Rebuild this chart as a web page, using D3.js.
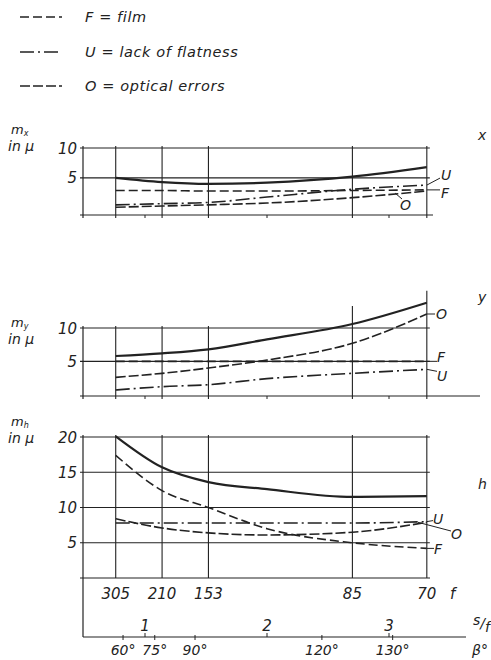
<!DOCTYPE html>
<html><head><meta charset="utf-8">
<script src="https://cdn.jsdelivr.net/npm/d3@7"></script>
<style>
html,body{margin:0;padding:0;background:#fff;}
svg text{font-family:"DejaVu Sans",sans-serif;font-style:italic;fill:#222;}
</style></head>
<body><svg id="c" width="491" height="660"></svg>
<script>
// ---- data ----
const samplePos = [0.76, 1.14, 1.52, 2.0, 2.70, 3.31];   // s/f positions of the read points
const fLabels = ["305", "210", "153", "85", "70"];
const fPositions = [0.76, 1.14, 1.52, 2.70, 3.31];
const sfTicks = [1, 2, 3];
const betaLabels = ["60°", "75°", "90°", "120°", "130°"];
const betaPositions = [0.82, 1.08, 1.41, 2.45, 3.03];

const mxTotal = [5.0, 4.3, 4.0, 4.2, 5.2, 6.8];
const mxF     = [2.9, 2.9, 2.8, 2.8, 2.9, 3.0];
const mxU     = [0.5, 0.7, 0.9, 1.8, 3.1, 3.8];
const mxO     = [0.1, 0.3, 0.5, 0.8, 1.7, 2.8];
const mxTicks = [5, 10];

const myTotal = [5.8, 6.2, 6.8, 8.3, 10.6, 13.8];
const myF     = [5.0, 5.0, 5.0, 5.0, 5.0, 5.0];
const myU     = [0.7, 1.2, 1.5, 2.4, 3.2, 3.8];
const myO     = [2.6, 3.2, 4.0, 5.2, 7.7, 12.1];
const myTicks = [5, 10];

const mhTotal = [20.1, 15.7, 13.6, 12.6, 11.5, 11.6];
const mhF     = [17.4, 12.4, 10.0, 7.0, 5.0, 4.2];
const mhU     = [7.8, 7.8, 7.8, 7.8, 7.8, 8.0];
const mhO     = [8.4, 7.1, 6.4, 6.1, 6.5, 7.9];
const mhTicks = [5, 10, 15, 20];

const legendItems = [
  {key: "F", text: "F  =  film", dash: "9,4"},
  {key: "U", text: "U  =  lack of flatness", dash: "14,4,2,4"},
  {key: "O", text: "O  =  optical errors", dash: "10,3"}
];

// ---- drawing ----
const svg = d3.select("#c");
const ink = "#222";
const x = d3.scaleLinear().domain([1, 3]).range([145, 389]);
const x0 = 83, xEnd = x(3.31);
const dashes = {F: "9,4", U: "14,4,2,4", O: "10,3", T: null};

// legend
legendItems.forEach((d, i) => {
  const y = [17, 52, 86][i];
  svg.append("line").attr("x1", 20).attr("x2", 62).attr("y1", y).attr("y2", y)
    .attr("stroke", ink).attr("stroke-width", 1.6).attr("stroke-dasharray", d.dash);
  svg.append("text").attr("x", 85).attr("y", y + 5).attr("font-size", 14.5)
    .attr("letter-spacing", 0.6).text(d.text);
});

function panel(cfg) {
  const y = d3.scaleLinear().domain(cfg.domain).range(cfg.range);
  const g = svg.append("g");
  const yb = cfg.range[0], yt = y(cfg.ticks[cfg.ticks.length - 1]);
  // horizontal grid lines
  cfg.ticks.forEach(t => {
    g.append("line").attr("x1", x0 - 3).attr("x2", xEnd + 3).attr("y1", y(t)).attr("y2", y(t))
      .attr("stroke", ink).attr("stroke-width", 1.1);
    g.append("text").attr("x", 77).attr("y", y(t) + 5.5).attr("text-anchor", "end")
      .attr("font-size", 15).text(t);
  });
  // bottom axis
  g.append("line").attr("x1", x0 - 3).attr("x2", cfg.bottomEnd).attr("y1", yb).attr("y2", yb)
    .attr("stroke", ink).attr("stroke-width", 1.2);
  // left axis
  g.append("line").attr("x1", x0).attr("x2", x0).attr("y1", yt - 2).attr("y2", cfg.leftEnd)
    .attr("stroke", ink).attr("stroke-width", 1.2);
  // vertical grid lines
  fPositions.forEach((p, i) => {
    const top = cfg.gridTop ? cfg.gridTop[i] : yt;
    g.append("line").attr("x1", x(p)).attr("x2", x(p)).attr("y1", top - 2).attr("y2", yb + cfg.tickOut)
      .attr("stroke", ink).attr("stroke-width", 1.1);
  });
  if (cfg.sfMarks) sfTicks.forEach(t => {
    g.append("line").attr("x1", x(t)).attr("x2", x(t)).attr("y1", yb).attr("y2", yb + 3)
      .attr("stroke", ink).attr("stroke-width", 1);
  });
  // curves
  const line = d3.line().x((d, i) => x(samplePos[i])).y(d => y(d)).curve(d3.curveMonotoneX);
  cfg.series.forEach(s => {
    g.append("path").attr("d", line(s.values)).attr("fill", "none").attr("stroke", ink)
      .attr("stroke-width", s.key === "T" ? 2.2 : 1.6)
      .attr("stroke-dasharray", dashes[s.key]);
  });
  // series labels with leader lines
  cfg.labels.forEach(l => {
    g.append("line").attr("x1", l.x1).attr("y1", l.y1).attr("x2", l.x2).attr("y2", l.y2)
      .attr("stroke", ink).attr("stroke-width", 1);
    g.append("text").attr("x", l.tx).attr("y", l.ty + 5).attr("font-size", 14).text(l.t);
  });
  // axis title
  const ttl = g.append("text").attr("x", 11).attr("y", cfg.titleY).attr("font-size", 13);
  ttl.append("tspan").text("m");
  ttl.append("tspan").attr("font-size", 8).attr("dy", 2).text(cfg.sub);
  g.append("text").attr("x", 8).attr("y", cfg.titleY + 17).attr("font-size", 14).text("in μ");
  g.append("text").attr("x", 478).attr("y", cfg.letterY).attr("font-size", 14).text(cfg.sub);
  return y;
}

// x panel
const yx = d3.scaleLinear().domain([-1.2, 10]).range([215, 148]);
panel({
  domain: [-1.2, 10], range: [215, 148], ticks: mxTicks, bottomEnd: 433, leftEnd: 218, tickOut: 3,
  sfMarks: true, sub: "x", titleY: 134, letterY: 140,
  series: [{key: "T", values: mxTotal}, {key: "F", values: mxF}, {key: "U", values: mxU}, {key: "O", values: mxO}],
  labels: [
    {t: "U", x1: xEnd, y1: yx(mxU[5]), x2: 440, y2: yx(mxU[5]) - 7, tx: 441, ty: 175},
    {t: "F", x1: xEnd, y1: yx(mxF[5]), x2: 440, y2: yx(mxF[5]), tx: 441, ty: 193},
    {t: "O", x1: 395, y1: 193, x2: 402, y2: 199, tx: 400, ty: 205}
  ]
});

// y panel
const yy = d3.scaleLinear().domain([-0.2, 10]).range([396, 328]);
panel({
  domain: [-0.2, 10], range: [396, 328], ticks: myTicks, bottomEnd: 480, leftEnd: 399, tickOut: 3,
  sfMarks: true, sub: "y", titleY: 327, letterY: 302,
  gridTop: [yy(10), yy(10), yy(10), yy(13.0), yy(15.3)],
  series: [{key: "T", values: myTotal}, {key: "F", values: myF}, {key: "U", values: myU}, {key: "O", values: myO}],
  labels: [
    {t: "O", x1: xEnd, y1: yy(myO[5]), x2: 435, y2: yy(myO[5]), tx: 436, ty: 314},
    {t: "F", x1: xEnd, y1: yy(myF[5]), x2: 437, y2: yy(myF[5]), tx: 437, ty: 357},
    {t: "U", x1: xEnd, y1: yy(myU[5]), x2: 437, y2: yy(myU[5]) + 2, tx: 437, ty: 376}
  ]
});

// h panel
const yh = d3.scaleLinear().domain([0, 20]).range([578, 437]);
panel({
  domain: [0, 20], range: [578, 437], ticks: mhTicks, bottomEnd: 430, leftEnd: 637, tickOut: 0,
  sfMarks: false, sub: "h", titleY: 426, letterY: 489,
  series: [{key: "T", values: mhTotal}, {key: "F", values: mhF}, {key: "U", values: mhU}, {key: "O", values: mhO}],
  labels: [
    {t: "U", x1: xEnd, y1: yh(mhU[5]), x2: 433, y2: yh(mhU[5]) - 1, tx: 433, ty: 519},
    {t: "O", x1: 418, y1: yh(mhO[5]), x2: 451, y2: 531, tx: 451, ty: 534},
    {t: "F", x1: xEnd, y1: yh(mhF[5]), x2: 434, y2: yh(mhF[5]), tx: 434, ty: 549}
  ]
});

// f labels
fPositions.forEach((p, i) => {
  svg.append("text").attr("x", x(p)).attr("y", 599).attr("text-anchor", "middle")
    .attr("font-size", 15).text(fLabels[i]);
});
svg.append("text").attr("x", 450).attr("y", 599).attr("font-size", 15).text("f");

// s/f and beta axis
const axY = 637;
svg.append("line").attr("x1", x0).attr("x2", 466).attr("y1", axY).attr("y2", axY)
  .attr("stroke", ink).attr("stroke-width", 1.2);
sfTicks.forEach(t => {
  svg.append("line").attr("x1", x(t)).attr("x2", x(t)).attr("y1", axY - 4).attr("y2", axY)
    .attr("stroke", ink).attr("stroke-width", 1);
  svg.append("text").attr("x", x(t)).attr("y", 631).attr("text-anchor", "middle")
    .attr("font-size", 15).text(t);
});
betaPositions.forEach((p, i) => {
  svg.append("line").attr("x1", x(p)).attr("x2", x(p)).attr("y1", axY - 2).attr("y2", axY + 3)
    .attr("stroke", ink).attr("stroke-width", 1);
  svg.append("text").attr("x", x(p)).attr("y", 655).attr("text-anchor", "middle")
    .attr("font-size", 14).text(betaLabels[i]);
});
const sfl = svg.append("text").attr("x", 473).attr("y", 628).attr("font-size", 14);
sfl.append("tspan").attr("dy", -3).text("s");
sfl.append("tspan").attr("dy", 3).text("/");
sfl.append("tspan").attr("dy", 4).text("f");
svg.append("text").attr("x", 472).attr("y", 655).attr("font-size", 14).text("β°");
</script></body></html>
